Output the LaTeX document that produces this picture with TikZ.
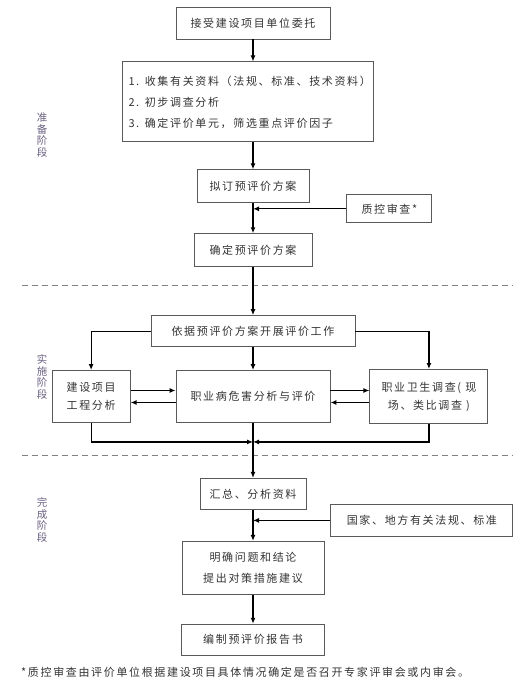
\documentclass[tikz,border=0pt]{standalone}
\usepackage{fontspec}
\setmainfont{Noto Sans CJK SC}[LetterSpace=15]
\usepackage{tikz}
\usetikzlibrary{arrows.meta,positioning}
\definecolor{boxline}{HTML}{5A5A5A}
\definecolor{boxtext}{HTML}{333333}
\definecolor{stagetext}{HTML}{6A6080}

\begin{document}
\begin{tikzpicture}[x=1pt, y=-1pt,
            block/.style={draw=boxline, line width=0.9pt, align=center, text=boxtext, inner sep=0pt, font=\fontsize{11}{18}\selectfont},
            stage/.style={align=center, text=stagetext, font=\fontsize{10.5}{11.5}\selectfont},
            arrow/.style={-{Latex[length=6pt,width=5pt]}, line width=1.2pt},
            sep/.style={dashed, gray, line width=0.8pt, dash pattern=on 6pt off 4pt}
        ]
        \useasboundingbox (0,0) rectangle (531,683);

        % Preparation stage
        \node[block, minimum width=154pt, minimum height=32pt] (entrust) at (253,23) {接受建设项目单位委托};
        \node[block, below=22pt of entrust, xshift=-5.5pt, minimum width=251pt, minimum height=80pt, text width=238pt, inner xsep=6.5pt, align=left, font=\fontsize{11}{21}\selectfont] (collect) {1. 收集有关资料（法规、标准、技术资料）\\2. 初步调查分析\\3. 确定评价单元，筛选重点评价因子};
        \node[block, below=27pt of collect, xshift=5.5pt, minimum width=112pt, minimum height=33pt] (draft) {拟订预评价方案};
        \node[block, below=30pt of draft, minimum width=118pt, minimum height=33pt] (confirm) {确定预评价方案};
        \node[block, right=37pt of draft, yshift=-22.5pt, minimum width=85pt, minimum height=28pt] (qc) {质控审查*};

        % Implementation stage
        \node[block, below=48pt of confirm, minimum width=204pt, minimum height=31pt] (basis) {依据预评价方案开展评价工作};
        \node[block, below=23pt of basis, minimum width=154pt, minimum height=52pt] (hazard) {职业病危害分析与评价};
        \node[block, left=45pt of hazard, minimum width=78pt, minimum height=52pt] (project) {建设项目\\工程分析};
        \node[block, right=39pt of hazard, minimum width=118pt, minimum height=54pt] (survey) {职业卫生调查( 现\\场、类比调查 )};
        \coordinate (join) at ([yshift=-19pt]hazard.south);

        % Completion stage
        \node[block, below=55pt of hazard, minimum width=106pt, minimum height=31pt] (summary) {汇总、分析资料};
        \node[block, right=24pt of summary, yshift=-26.5pt, minimum width=182pt, minimum height=32pt] (law) {国家、地方有关法规、标准};
        \node[block, below=31pt of summary, minimum width=142pt, minimum height=53pt, font=\fontsize{11}{21}\selectfont] (conclude) {明确问题和结论\\提出对策措施建议};
        \node[block, below=29pt of conclude, minimum width=143pt, minimum height=31pt] (report) {编制预评价报告书};

        % Stage labels and separators
        \node[stage] (prepare) at (42,135) {准\\备\\阶\\段};
        \node[stage] (implement) at (42,377) {实\\施\\阶\\段};
        \node[stage] (complete) at (42,520) {完\\成\\阶\\段};
        \draw[sep] (22,285) -- (513,285);
        \draw[sep] (22,455) -- (513,455);

        % Footnote
        \node[anchor=west, inner sep=0pt, text=boxtext, font=\fontsize{11}{13}\selectfont] (note) at (21,672) {*质控审查由评价单位根据建设项目具体情况确定是否召开专家评审会或内审会。};

        % Main path arrows
        \draw[arrow] (entrust) -- (entrust |- collect.north);
        \draw[arrow] (draft |- collect.south) -- (draft);
        \draw[arrow] (draft) -- (confirm);
        \draw[arrow] (qc.west) -- (qc.west -| draft.south);
        \draw[arrow] (confirm) -- (basis);
        \draw[arrow] (basis) -- (hazard);
        \draw[arrow] (basis.west) -| (project.north);
        \draw[arrow] (basis.east) -| (survey.north);
        \draw[arrow] ([yshift=6pt]project.east) -- ([yshift=6pt]hazard.west);
        \draw[arrow] ([yshift=-6pt]hazard.west) -- ([yshift=-6pt]project.east);
        \draw[arrow] ([yshift=6pt]hazard.east) -- ([yshift=6pt]survey.west);
        \draw[arrow] ([yshift=-6pt]survey.west) -- ([yshift=-6pt]hazard.east);
        \draw[arrow] (project.south) |- (join);
        \draw[arrow] (survey.south) |- (join);
        \draw[arrow] (hazard) -- (summary);
        \draw[arrow] (summary) -- (conclude);
        \draw[arrow] (law.west) -- (law.west -| summary.south);
        \draw[arrow] (conclude) -- (report);
    \end{tikzpicture}
\end{document}
